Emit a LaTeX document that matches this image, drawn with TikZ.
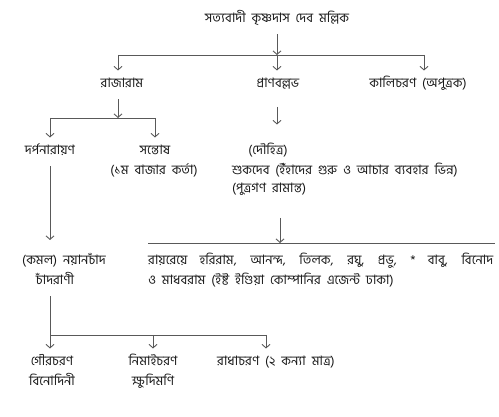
\documentclass[tikz,border=0pt]{standalone}
\usepackage{fontspec}
\newfontfamily\bn[Script=Bengali,WordSpace=2]{Hind Siliguri}
\usetikzlibrary{arrows.meta}
\begin{document}
\begin{tikzpicture}[x=1pt,y=-1pt,
  lbl/.style={font=\bn\fontsize{13}{15}\selectfont,text=black!90,inner sep=0pt,
    text height=9.5pt,text depth=3.5pt,outer ysep=8pt},
  ln/.style={line width=.9pt,black!65},
  arr/.style={ln,-{Straight Barb[length=3.5pt,width=8pt]}}]
\useasboundingbox (0,0) rectangle (499,417);
% first generation
\node[lbl] (top) at (277,20){সত্যবাদী কৃষ্ণদাস দেব মল্লিক};
\node[lbl] (raja) at (122,85){রাজারাম};
\node[lbl] (pran) at (278,85){প্রাণবল্লভ};
\node[lbl] (kali) at (418,85){কালিচরণ (অপুত্রক)};
\coordinate (b1) at (277,55);\coordinate (b1l) at (118,55);\coordinate (b1r) at (424,55);
\draw[arr] (top.south) -- (b1);
\draw[ln] (b1l) -- (b1r);
\draw[arr] (b1l) -- (raja.north -| b1l);
\draw[arr] (b1) -- (pran.north -| b1);
\draw[arr] (b1r) -- (kali.north -| b1r);
% rajaram
\node[lbl] (darpa) at (50,152){দর্পনারায়ণ};
\node[lbl] (santosh) at (155,152){সন্তোষ};
\node[lbl] (karta) at (154,172){(১ম বাজার কর্তা)};
\coordinate (b2) at (118,118);
\draw[arr] (raja.south -| b2) -- (b2);
\draw[ln] (b2 -| darpa) -- (b2 -| santosh);
\draw[arr] (b2 -| darpa) -- (darpa.north);
\draw[arr] (b2 -| santosh) -- (santosh.north);
% pranaballabh
\node[lbl] (dauh) at (268,152){(দৌহিত্র)};
\node[lbl,anchor=west] (shuk) at (232,172){শুকদেব (ইঁহাদের গুরু ও আচার ব্যবহার ভিন্ন)};
\node[lbl,anchor=west] (putra) at (232,190){(পুত্রগণ রামান্ত)};
\draw[arr,shorten <=7.5pt,shorten >=13pt] (pran.south -| b1) -- (dauh.north -| b1);
\node[lbl,anchor=west] (ray) at (148,262){\makebox[345pt][s]{রায়রেয়ে হরিরাম, আনন্দ, তিলক, রঘু, প্রভু, * বাবু, বিনোদ}};
\node[lbl,anchor=west] (ray2) at (148,282){ও মাধবরাম (ইষ্ট ইণ্ডিয়া কোম্পানির এজেন্ট ঢাকা)};
\coordinate (rb) at (280,243);
\draw[ln] (rb -| ray.west) -- ([xshift=2pt]rb -| ray.east);
\draw[arr,shorten <=13.5pt] (putra.south -| rb) -- (rb);
% darpanarayan
\node[lbl] (kamal) at (64,262){(কমল) নয়ানচাঁদ};
\node[lbl] (chand) at (55,282){চাঁদরাণী};
\draw[arr,shorten >=7.5pt] (darpa.south) -- (kamal.north -| darpa);
\node[lbl] (gour) at (52,363){গৌরচরণ};
\node[lbl] (binod) at (52,383){বিনোদিনী};
\node[lbl] (nimai) at (153,363){নিমাইচরণ};
\node[lbl] (khudi) at (153,383){ক্ষুদিমণি};
\node[lbl] (radha) at (276,363){রাধাচরণ (২ কন্যা মাত্র)};
\coordinate (b3) at (50,335);\coordinate (b3r) at (266,335);
\draw[ln] (chand.south -| b3) -- (b3) -- (b3r);
\draw[arr] (b3) -- (gour.north -| b3);
\draw[arr] (b3 -| nimai) -- (nimai.north);
\draw[arr] (b3r) -- (radha.north -| b3r);
\end{tikzpicture}
\end{document}
